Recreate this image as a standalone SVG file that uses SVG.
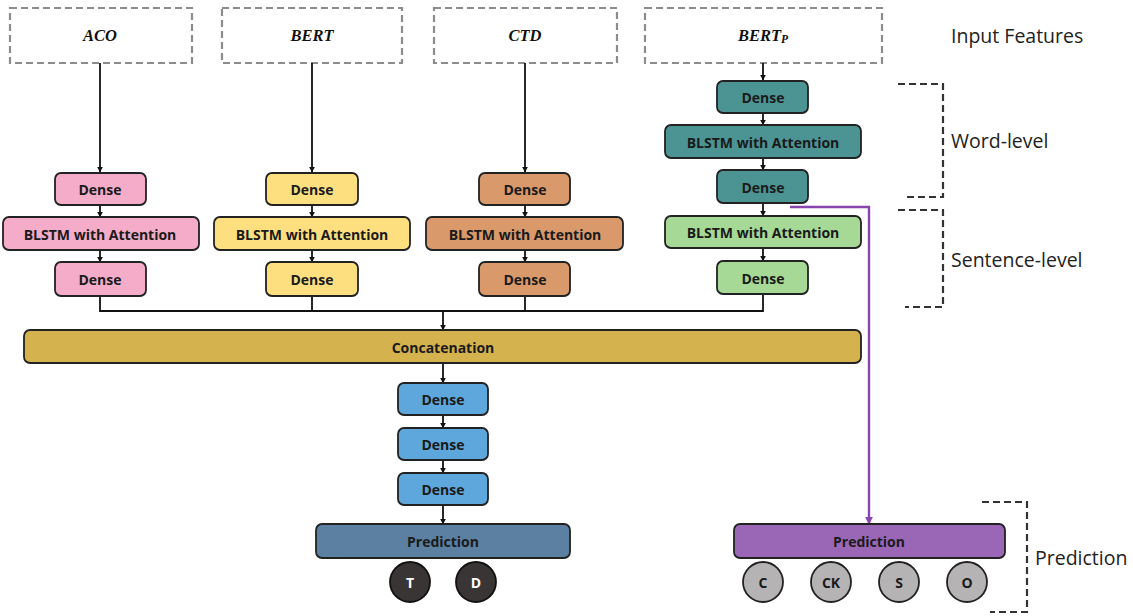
<svg xmlns="http://www.w3.org/2000/svg" width="1133" height="616" viewBox="0 0 1133 616">
<defs>
<marker id="ah" viewBox="0 0 10 10" refX="9" refY="5" markerWidth="6" markerHeight="6" orient="auto" markerUnits="userSpaceOnUse"><path d="M0,0 L10,5 L0,10 z" fill="#111"/></marker>
<marker id="ahp" viewBox="0 0 10 10" refX="9" refY="5" markerWidth="8" markerHeight="8" orient="auto" markerUnits="userSpaceOnUse"><path d="M0,0 L10,5 L0,10 z" fill="#8a44b0"/></marker>
</defs>
<style>
.in{fill:#fff;stroke:#8c8c8c;stroke-width:2.2;stroke-dasharray:7,4}
.bx{stroke:#222;stroke-width:1.8}
.t{font-family:"Open Sans","DejaVu Sans",sans-serif;font-weight:bold;font-size:14px;fill:#1a1a1a;text-anchor:middle;dominant-baseline:central}
.tw{fill:#fff}
.it{font-family:"Liberation Serif",serif;font-weight:bold;font-style:italic;font-size:16.5px;fill:#111;text-anchor:middle;dominant-baseline:central}
.lb{font-family:"Open Sans","DejaVu Sans",sans-serif;font-size:19.5px;fill:#222;dominant-baseline:central}
.br{fill:none;stroke:#333;stroke-width:2.2;stroke-dasharray:7,4}
.c{fill:none;stroke:#111;stroke-width:1.8}
.pink{fill:#f5acc9}.yel{fill:#fedf80}.ora{fill:#da996a}.teal{fill:#4c9493}.grn{fill:#a6d896}.gold{fill:#d4b24d}.blue{fill:#5ea7dc}.steel{fill:#5b80a1}.pur{fill:#9a67b6}
.dk{fill:#3a3535;stroke:#111;stroke-width:1.8}.gr{fill:#b5b3b3;stroke:#222;stroke-width:1.8}
</style>

<g id="inputs">
<g id="in-aco"><rect class="in" x="10" y="8" width="182" height="55"/><text class="it" x="100" y="35">ACO</text></g>
<g id="in-bert"><rect class="in" x="222" y="8" width="180" height="55"/><text class="it" x="312" y="35">BERT</text></g>
<g id="in-ctd"><rect class="in" x="434" y="8" width="183" height="55"/><text class="it" x="525" y="35">CTD</text></g>
<g id="in-bertp"><rect class="in" x="645" y="8" width="237" height="55"/><text class="it" x="763" y="35">BERT<tspan font-size="11.5" dy="4">P</tspan></text></g>
</g>

<g id="connectors">
<path class="c" d="M100,63 V172" marker-end="url(#ah)"/>
<path class="c" d="M100,205 V217" marker-end="url(#ah)"/>
<path class="c" d="M100,250 V262" marker-end="url(#ah)"/>
<path class="c" d="M312,63 V172" marker-end="url(#ah)"/>
<path class="c" d="M312,205 V217" marker-end="url(#ah)"/>
<path class="c" d="M312,250 V262" marker-end="url(#ah)"/>
<path class="c" d="M525,63 V172" marker-end="url(#ah)"/>
<path class="c" d="M525,205 V217" marker-end="url(#ah)"/>
<path class="c" d="M525,250 V262" marker-end="url(#ah)"/>
<path class="c" d="M763,63 V80" marker-end="url(#ah)"/>
<path class="c" d="M763,113 V125" marker-end="url(#ah)"/>
<path class="c" d="M763,158 V170" marker-end="url(#ah)"/>
<path class="c" d="M763,203 V216" marker-end="url(#ah)"/>
<path class="c" d="M763,248 V261" marker-end="url(#ah)"/>
<path class="c" d="M100,296 V311 H763 V294"/>
<path class="c" d="M312,296 V311 M525,296 V311"/>
<path class="c" d="M443,311 V330" marker-end="url(#ah)"/>
<path class="c" d="M443,363 V383" marker-end="url(#ah)"/>
<path class="c" d="M443,415 V428" marker-end="url(#ah)"/>
<path class="c" d="M443,460 V473" marker-end="url(#ah)"/>
<path class="c" d="M443,505 V524" marker-end="url(#ah)"/>
<path d="M790,207 H869 V524" fill="none" stroke="#8a44b0" stroke-width="2.4" marker-end="url(#ahp)"/>
</g>

<g id="aco-dense1"><rect class="bx pink" x="55" y="173" width="91" height="32" rx="6"/><text class="t" x="100" y="189">Dense</text></g>
<g id="aco-blstm"><rect class="bx pink" x="3" y="217" width="196" height="33" rx="6"/><text class="t" x="100" y="234">BLSTM with Attention</text></g>
<g id="aco-dense2"><rect class="bx pink" x="55" y="262" width="91" height="34" rx="6"/><text class="t" x="100" y="279">Dense</text></g>

<g id="bert-dense1"><rect class="bx yel" x="266" y="173" width="92" height="32" rx="6"/><text class="t" x="312" y="189">Dense</text></g>
<g id="bert-blstm"><rect class="bx yel" x="214" y="217" width="196" height="33" rx="6"/><text class="t" x="312" y="234">BLSTM with Attention</text></g>
<g id="bert-dense2"><rect class="bx yel" x="266" y="262" width="92" height="34" rx="6"/><text class="t" x="312" y="279">Dense</text></g>

<g id="ctd-dense1"><rect class="bx ora" x="479" y="173" width="91" height="32" rx="6"/><text class="t" x="525" y="189">Dense</text></g>
<g id="ctd-blstm"><rect class="bx ora" x="426" y="217" width="197" height="33" rx="6"/><text class="t" x="525" y="234">BLSTM with Attention</text></g>
<g id="ctd-dense2"><rect class="bx ora" x="479" y="262" width="91" height="34" rx="6"/><text class="t" x="525" y="279">Dense</text></g>

<g id="bp-dense1"><rect class="bx teal" x="717" y="81" width="91" height="32" rx="6"/><text class="t" x="763" y="97">Dense</text></g>
<g id="bp-blstm1"><rect class="bx teal" x="665" y="125" width="196" height="33" rx="6"/><text class="t" x="763" y="142">BLSTM with Attention</text></g>
<g id="bp-dense2"><rect class="bx teal" x="717" y="170" width="91" height="33" rx="6"/><text class="t" x="763" y="187">Dense</text></g>
<g id="bp-blstm2"><rect class="bx grn" x="665" y="216" width="196" height="32" rx="6"/><text class="t" x="763" y="232">BLSTM with Attention</text></g>
<g id="bp-dense3"><rect class="bx grn" x="717" y="261" width="91" height="33" rx="6"/><text class="t" x="763" y="278">Dense</text></g>

<g id="concat"><rect class="bx gold" x="24" y="330" width="837" height="33" rx="6"/><text class="t" x="443" y="347">Concatenation</text></g>

<g id="m-dense1"><rect class="bx blue" x="398" y="383" width="90" height="32" rx="6"/><text class="t" x="443" y="399">Dense</text></g>
<g id="m-dense2"><rect class="bx blue" x="398" y="428" width="90" height="32" rx="6"/><text class="t" x="443" y="444">Dense</text></g>
<g id="m-dense3"><rect class="bx blue" x="398" y="473" width="90" height="32" rx="6"/><text class="t" x="443" y="489">Dense</text></g>

<g id="pred-left"><rect class="bx steel" x="316" y="524" width="254" height="34" rx="6"/><text class="t" x="443" y="541">Prediction</text></g>
<g id="out-T"><circle class="dk" cx="410" cy="582" r="20"/><text class="t tw" x="410" y="582">T</text></g>
<g id="out-D"><circle class="dk" cx="476" cy="582" r="20"/><text class="t tw" x="476" y="582">D</text></g>

<g id="pred-right"><rect class="bx pur" x="734" y="524" width="271" height="34" rx="6"/><text class="t" x="869" y="541">Prediction</text></g>
<g id="out-C"><circle class="gr" cx="763" cy="582" r="20"/><text class="t" x="763" y="582">C</text></g>
<g id="out-CK"><circle class="gr" cx="831" cy="582" r="20"/><text class="t" x="831" y="582">CK</text></g>
<g id="out-S"><circle class="gr" cx="899" cy="582" r="20"/><text class="t" x="899" y="582">S</text></g>
<g id="out-O"><circle class="gr" cx="967" cy="582" r="20"/><text class="t" x="967" y="582">O</text></g>

<g id="labels">
<text class="lb" x="951" y="35">Input Features</text>
<path class="br" d="M898,84 H943 V197 H905"/>
<text class="lb" x="951" y="140">Word-level</text>
<path class="br" d="M898,210 H943 V307 H905"/>
<text class="lb" x="951" y="259">Sentence-level</text>
<path class="br" d="M982,502 H1027 V612 H990"/>
<text class="lb" x="1035" y="557">Prediction</text>
</g>
</svg>
